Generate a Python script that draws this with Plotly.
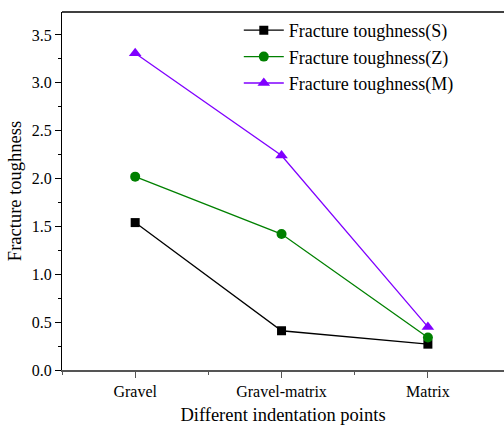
import plotly.graph_objects as go

categories = ["Gravel", "Gravel-matrix", "Matrix"]
s_values = [1.54, 0.41, 0.27]
z_values = [2.02, 1.42, 0.34]
m_values = [3.31, 2.24, 0.45]
y_ticks = [0.0, 0.5, 1.0, 1.5, 2.0, 2.5, 3.0, 3.5]
y_tick_labels = ["0.0", "0.5", "1.0", "1.5", "2.0", "2.5", "3.0", "3.5"]

FONT = "Times New Roman, Liberation Serif, serif"
x_idx = list(range(len(categories)))

fig = go.Figure()
fig.add_trace(go.Scatter(x=x_idx, y=s_values, mode="lines+markers", name="Fracture toughness(S)",
                         line=dict(color="black", width=1.3),
                         marker=dict(symbol="square", size=9, color="black")))
fig.add_trace(go.Scatter(x=x_idx, y=z_values, mode="lines+markers", name="Fracture toughness(Z)",
                         line=dict(color="#008000", width=1.3),
                         marker=dict(symbol="circle", size=10, color="#008000")))
fig.add_trace(go.Scatter(x=x_idx, y=m_values, mode="lines+markers", name="Fracture toughness(M)",
                         line=dict(color="#8000ff", width=1.3),
                         marker=dict(symbol="triangle-up", size=11, color="#8000ff")))

fig.update_layout(
    width=504, height=427,
    margin=dict(l=62, r=0, t=12, b=57),
    paper_bgcolor="white", plot_bgcolor="white",
    font=dict(family=FONT, color="black"),
    showlegend=True,
    legend=dict(x=0.4, y=1.0, xanchor="left", yanchor="top",
                font=dict(family=FONT, size=18, color="black"),
                bgcolor="rgba(0,0,0,0)", tracegroupgap=0, itemwidth=40),
    xaxis=dict(range=[-0.5, 2.52], tickmode="array", tickvals=x_idx, ticktext=categories,
               showline=True, linecolor="#555555", linewidth=2,
               ticks="outside", ticklen=6, tickwidth=1.3, tickcolor="#555555",
               minor=dict(tickvals=[-0.5, 0.5, 1.5], ticks="outside", ticklen=3, tickcolor="#555555"),
               showgrid=False, zeroline=False, mirror=False,
               tickfont=dict(family=FONT, size=16),
               title=dict(text="Different indentation points", font=dict(family=FONT, size=18.5), standoff=9)),
    yaxis=dict(range=[0, 3.74], tickmode="array", tickvals=y_ticks, ticktext=y_tick_labels,
               showline=True, linecolor="black", linewidth=1.3,
               ticks="outside", ticklen=6, tickwidth=1.3, tickcolor="black",
               minor=dict(dtick=0.25, ticks="outside", ticklen=3, tickcolor="black"),
               showgrid=False, zeroline=False,
               tickfont=dict(family=FONT, size=16),
               title=dict(text="Fracture toughness", font=dict(family=FONT, size=18.5), standoff=5)),
)
fig.add_shape(type="line", xref="paper", yref="paper", x0=0, x1=1, y0=1, y1=1,
              line=dict(color="black", width=1.3))

fig.write_html("out.html")
